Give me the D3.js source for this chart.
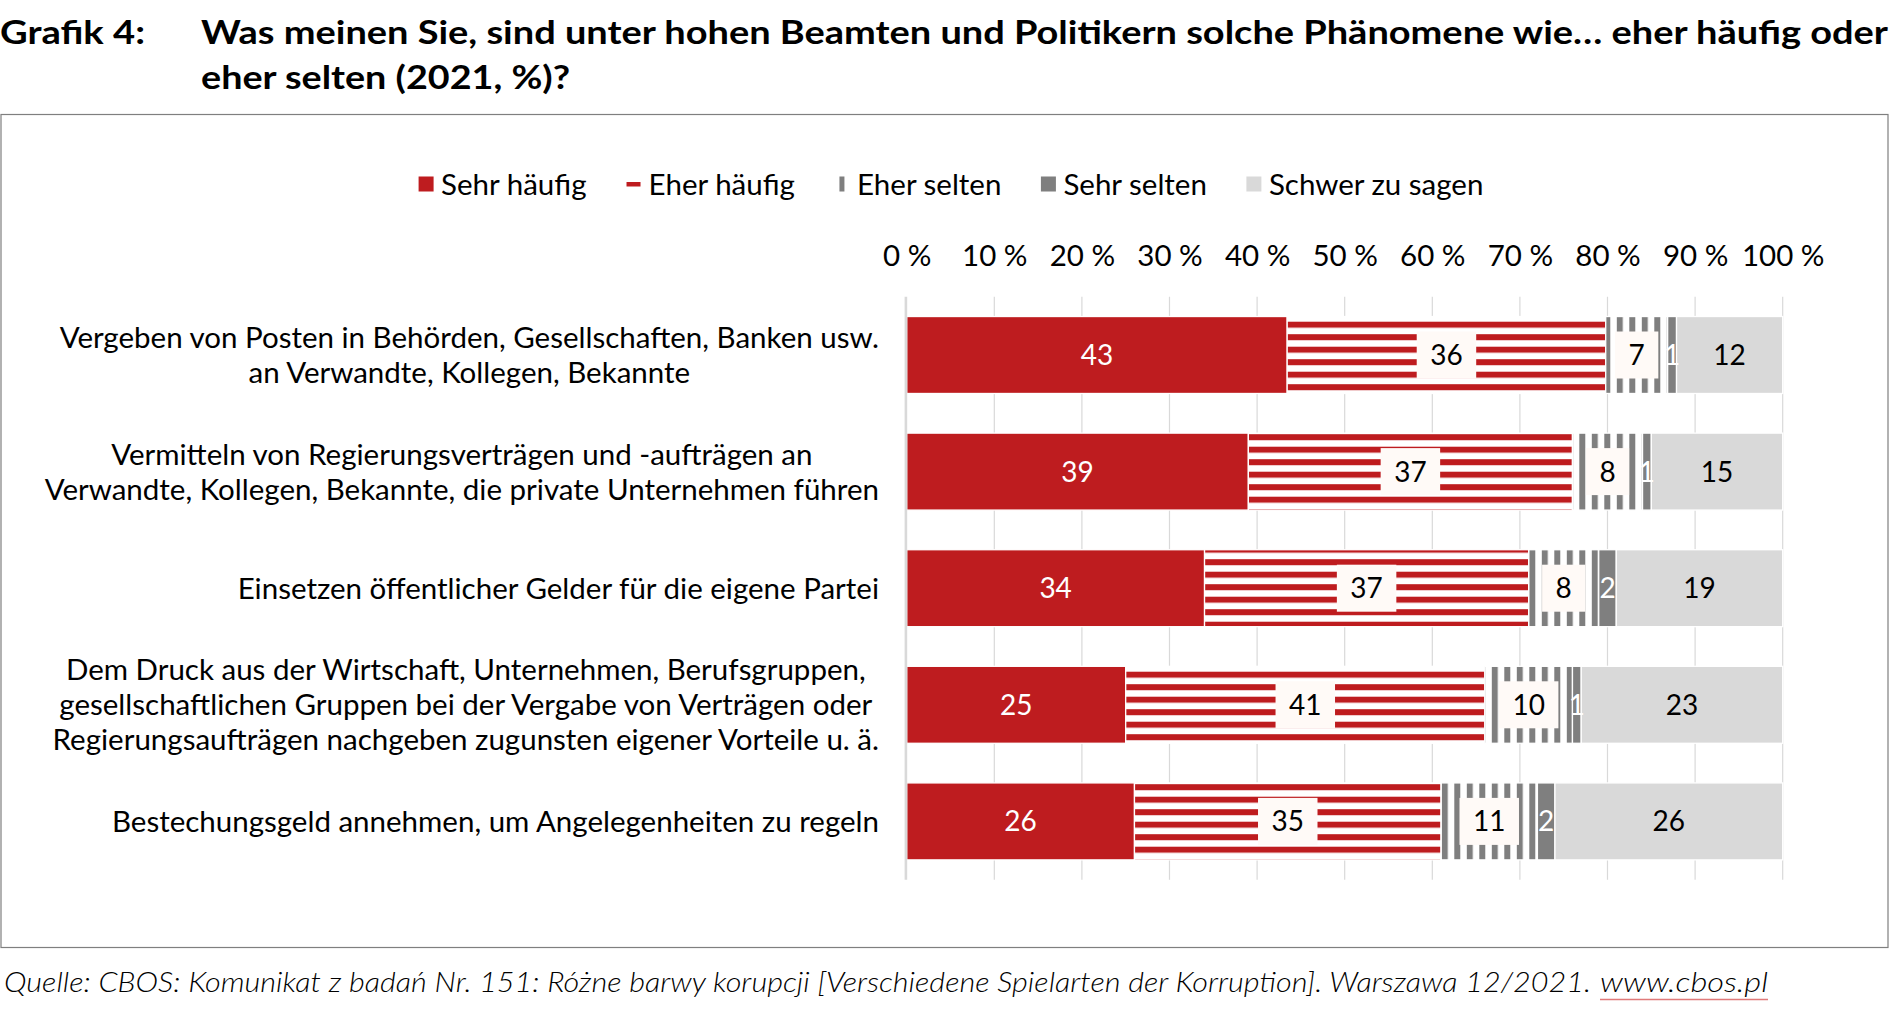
<!DOCTYPE html>
<html>
<head>
<meta charset="utf-8">
<script src="https://cdn.jsdelivr.net/npm/d3@7"></script>
<style>
  html, body { margin: 0; padding: 0; background: #fff; }
  svg { display: block; }
  text { font-family: Lato, "Open Sans", sans-serif; }
</style>
</head>
<body>
<svg id="chart" width="1890" height="1011"></svg>
<script>
// ---------- data ----------
const categories = [
  ["Vergeben von Posten in Behörden, Gesellschaften, Banken usw.", "an Verwandte, Kollegen, Bekannte"],
  ["Vermitteln von Regierungsverträgen und -aufträgen an", "Verwandte, Kollegen, Bekannte, die private Unternehmen führen"],
  ["Einsetzen öffentlicher Gelder für die eigene Partei"],
  ["Dem Druck aus der Wirtschaft, Unternehmen, Berufsgruppen,", "gesellschaftlichen Gruppen bei der Vergabe von Verträgen oder", "Regierungsaufträgen nachgeben zugunsten eigener Vorteile u. ä."],
  ["Bestechungsgeld annehmen, um Angelegenheiten zu regeln"]
];
const seriesNames = ["Sehr häufig", "Eher häufig", "Eher selten", "Sehr selten", "Schwer zu sagen"];
const sehrHaeufig = [43, 39, 34, 25, 26];
const eherHaeufig = [36, 37, 37, 41, 35];
const eherSelten  = [7, 8, 8, 10, 11];
const sehrSelten  = [1, 1, 2, 1, 2];
const schwerZuSagen = [12, 15, 19, 23, 26];
const tickValues = [0, 10, 20, 30, 40, 50, 60, 70, 80, 90, 100];
const tickLabels = ["0 %", "10 %", "20 %", "30 %", "40 %", "50 %", "60 %", "70 %", "80 %", "90 %", "100 %"];
const titleLabel = "Grafik 4:";
const titleLines = ["Was meinen Sie, sind unter hohen Beamten und Politikern solche Phänomene wie… eher häufig oder", "eher selten (2021, %)?"];
const sourceText = "Quelle: CBOS: Komunikat z badań Nr. 151: Różne barwy korupcji [Verschiedene Spielarten der Korruption]. Warszawa 12/2021.";
const sourceUrl = "www.cbos.pl";

// ---------- styles ----------
const RED = "#BE1C1F", GRAY = "#7F7F7F", LIGHT = "#D9D9D9";
const fillColor = [RED, "url(#pEH)", "url(#pES)", GRAY, LIGHT];
const labelColor = ["#fff", "#000", "#000", "#fff", "#000"];
const labelBox = [false, true, true, false, false];
const FS = 29.5;

const svg = d3.select("#chart");
const defs = svg.append("defs");

// horizontal red stripes
const pEH = defs.append("pattern").attr("id", "pEH").attr("patternUnits", "userSpaceOnUse")
  .attr("x", 0).attr("y", 9.2).attr("width", 20).attr("height", 12.5);
pEH.append("rect").attr("width", 20).attr("height", 12.5).attr("fill", "#fff");
pEH.append("rect").attr("width", 20).attr("height", 6).attr("fill", RED);
// vertical gray stripes
const pES = defs.append("pattern").attr("id", "pES").attr("patternUnits", "userSpaceOnUse")
  .attr("x", 4.3).attr("y", 0).attr("width", 12.5).attr("height", 20);
pES.append("rect").attr("width", 12.5).attr("height", 20).attr("fill", "#fff");
pES.append("rect").attr("width", 6).attr("height", 20).attr("fill", GRAY);

// ---------- frame ----------
svg.append("rect").attr("x", 1).attr("y", 114.5).attr("width", 1887).attr("height", 833)
  .attr("fill", "none").attr("stroke", "#7f7f7f").attr("stroke-width", 1.2);

// ---------- title ----------
svg.append("text").attr("x", 0).attr("y", 44).attr("font-weight", 700).attr("font-size", 33)
  .attr("textLength", 145).attr("lengthAdjust", "spacingAndGlyphs").text(titleLabel);
svg.append("text").attr("x", 201).attr("y", 44).attr("font-weight", 700).attr("font-size", 33)
  .attr("textLength", 1687).attr("lengthAdjust", "spacingAndGlyphs").text(titleLines[0]);
svg.append("text").attr("x", 201).attr("y", 88.5).attr("font-weight", 700).attr("font-size", 33)
  .attr("textLength", 369).attr("lengthAdjust", "spacingAndGlyphs").text(titleLines[1]);

// ---------- footer ----------
svg.append("text").attr("x", 4).attr("y", 992).attr("font-style", "italic").attr("font-weight", 300)
  .attr("font-size", 27).attr("textLength", 1587).attr("lengthAdjust", "spacingAndGlyphs").text(sourceText);
svg.append("text").attr("x", 1600).attr("y", 992).attr("font-style", "italic").attr("font-weight", 300)
  .attr("font-size", 27).attr("textLength", 168).attr("lengthAdjust", "spacingAndGlyphs").text(sourceUrl);
svg.append("line").attr("x1", 1600).attr("x2", 1768).attr("y1", 999.5).attr("y2", 999.5)
  .attr("stroke", "#E07A7A").attr("stroke-width", 1.5);

// ---------- scales ----------
const rows = categories.map((c, i) => ({
  i, s0: sehrHaeufig[i], s1: eherHaeufig[i], s2: eherSelten[i], s3: sehrSelten[i], s4: schwerZuSagen[i]
}));
const keys = ["s0", "s1", "s2", "s3", "s4"];
const stacked = d3.stack().keys(keys).offset(d3.stackOffsetExpand)(rows);

const x = d3.scaleLinear().domain([0, 1]).range([906.7, 1782.7]);
const y = d3.scaleBand().domain(d3.range(categories.length)).range([296.7, 879.7])
  .paddingInner(0.34).paddingOuter(0.17);

// gridlines
const g = svg.append("g");
g.selectAll("line.grid").data(tickValues.slice(1)).join("line")
  .attr("class", "grid")
  .attr("x1", d => x(d / 100)).attr("x2", d => x(d / 100))
  .attr("y1", y.range()[0]).attr("y2", y.range()[1])
  .attr("stroke", LIGHT).attr("stroke-width", 1.2);

// axis labels (top)
const axis = d3.axisTop(x).tickValues(tickValues.map(d => d / 100))
  .tickFormat((d, i) => tickLabels[i]).tickSize(0).tickPadding(0);
const ax = svg.append("g").attr("transform", "translate(0,266.3)").call(axis);
ax.select(".domain").remove();
ax.selectAll("text").attr("font-size", FS).attr("fill", "#000")
  .attr("font-family", "Lato").attr("dy", 0);

// bars
const layers = svg.append("g").selectAll("g.layer").data(stacked).join("g").attr("class", "layer");
layers.selectAll("rect").data(d => d.map(p => ({ p, key: d.key }))).join("rect")
  .attr("x", d => x(d.p[0]))
  .attr("y", d => y(d.p.data.i))
  .attr("width", d => x(d.p[1]) - x(d.p[0]))
  .attr("height", y.bandwidth())
  .attr("fill", d => fillColor[keys.indexOf(d.key)])
  .attr("stroke", "#fff").attr("stroke-width", 1.3);

// axis line at 0
svg.append("line").attr("x1", x(0) - 0.8).attr("x2", x(0) - 0.8)
  .attr("y1", y.range()[0]).attr("y2", y.range()[1])
  .attr("stroke", LIGHT).attr("stroke-width", 2.6);

// data labels
const lab = svg.append("g");
stacked.forEach((layer, k) => {
  layer.forEach(p => {
    const cx = (x(p[0]) + x(p[1])) / 2;
    const cy = y(p.data.i) + y.bandwidth() / 2;
    const v = p.data[layer.key];
    const gg = lab.append("g");
    const t = gg.append("text").attr("x", cx).attr("y", cy + 10).attr("text-anchor", "middle")
      .attr("font-size", 28).attr("fill", labelColor[k]).text(v);
    if (labelBox[k]) {
      const w = t.node().getComputedTextLength();
      gg.insert("rect", "text").attr("x", cx - w / 2 - 13.5).attr("y", cy - 23.5)
        .attr("width", w + 27).attr("height", 47).attr("fill", "#FFFAF7");
    }
  });
});

// category labels: block right-aligned at 879, lines centered within block
const catG = svg.append("g");
categories.forEach((lines, i) => {
  const cy = y(i) + y.bandwidth() / 2;
  const lh = 35;
  const texts = lines.map((ln, j) => catG.append("text")
    .attr("font-size", FS).attr("fill", "#000")
    .attr("y", cy + (j - (lines.length - 1) / 2) * lh + 10.5).text(ln));
  const maxW = d3.max(texts, t => t.node().getComputedTextLength());
  const center = 879 - maxW / 2;
  texts.forEach(t => t.attr("x", center).attr("text-anchor", "middle"));
});

// legend
const legend = svg.append("g");
const legendY = 184;
const items = [];
const GAP = 39.5;
let lx = 0;
seriesNames.forEach((name, k) => {
  const it = legend.append("g");
  if (k === 0) it.append("rect").attr("x", 0).attr("y", -7.5).attr("width", 15).attr("height", 15).attr("fill", RED);
  if (k === 1) it.append("rect").attr("x", 0.5).attr("y", -2).attr("width", 14).attr("height", 4.5).attr("fill", RED);
  if (k === 2) it.append("rect").attr("x", 5).attr("y", -7.5).attr("width", 5).attr("height", 15).attr("fill", GRAY);
  if (k === 3) it.append("rect").attr("x", 0).attr("y", -7.5).attr("width", 15).attr("height", 15).attr("fill", GRAY);
  if (k === 4) it.append("rect").attr("x", 0).attr("y", -7.5).attr("width", 15).attr("height", 15).attr("fill", LIGHT);
  const t = it.append("text").attr("x", 22.5).attr("y", 10.5).attr("font-size", FS).attr("fill", "#000").text(name);
  const w = 22.5 + t.node().getComputedTextLength();
  items.push({ it, x: lx });
  lx += w + GAP;
});
const totalW = lx - GAP;
const startX = 951 - totalW / 2;
items.forEach(d => d.it.attr("transform", `translate(${startX + d.x},${legendY})`));
</script>
</body>
</html>
